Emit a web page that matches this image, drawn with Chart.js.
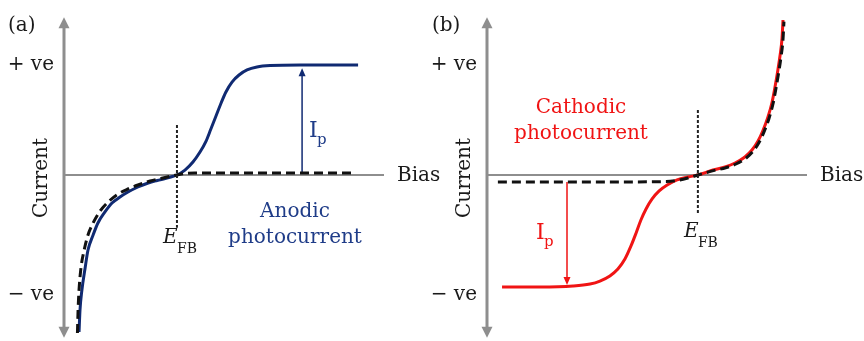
<!DOCTYPE html>
<html><head><meta charset="utf-8">
<script src="https://cdn.jsdelivr.net/npm/chart.js@4"></script>
<style>
html,body{margin:0;padding:0;background:#fff;overflow:hidden}
#wrap{position:relative;width:864px;height:341px}
#ca{position:absolute;left:0;top:0}
#cb{position:absolute;left:432px;top:0}
canvas{display:block}
</style></head><body>
<div id="wrap"><canvas id="ca" width="470" height="341"></canvas><canvas id="cb" width="432" height="341"></canvas></div>
<script>
// ---------- Panel (a): anodic photocurrent ----------
const biasA_light    = [0.47, 0.50, 0.56, 0.66, 0.75, 0.91, 1.06, 1.28, 1.50, 1.75, 2.00, 2.31, 2.63, 2.91, 3.16, 3.34, 3.53,
                        3.78, 4.03, 4.25, 4.44, 4.59, 4.75, 4.91, 5.06, 5.25, 5.47, 5.72, 6.03, 6.44, 7.38, 9.19];
const currentA_light = [-1.427, -1.227, -1.045, -0.845, -0.682, -0.545, -0.436, -0.336, -0.255, -0.200, -0.155, -0.109, -0.073, -0.050, -0.032, -0.018, 0,
                        0.045, 0.118, 0.209, 0.309, 0.418, 0.536, 0.655, 0.755, 0.845, 0.909, 0.955, 0.982, 0.995, 1.0, 1.0];
const biasA_dark     = [0.42, 0.44, 0.47, 0.53, 0.63, 0.75, 0.91, 1.13, 1.38, 1.69, 2.00, 2.31, 2.69, 3.09, 3.53, 3.78, 4.09, 9.10];
const currentA_dark  = [-1.436, -1.227, -1.045, -0.845, -0.682, -0.545, -0.436, -0.327, -0.245, -0.173, -0.127, -0.091, -0.055, -0.027, 0, 0.014, 0.018, 0.018];
const efbA = 3.53;
const ipA = {bias: 7.44, from: 0.018, to: 0.97};

// ---------- Panel (b): cathodic photocurrent ----------
const biasB_light    = [0.47, 1.66, 2.69, 3.22, 3.53, 3.84, 4.09, 4.31, 4.50, 4.66, 4.81, 4.97, 5.16, 5.38, 5.63, 5.94, 6.28, 6.59,
                        7.06, 7.44, 7.75, 8.06, 8.28, 8.47, 8.63, 8.78, 8.91, 9.00, 9.09, 9.16, 9.22, 9.25];
const currentB_light = [-1.018, -1.018, -1.009, -0.991, -0.964, -0.918, -0.855, -0.764, -0.645, -0.527, -0.409, -0.309, -0.218, -0.145, -0.091, -0.045, -0.018, 0,
                        0.045, 0.073, 0.109, 0.164, 0.227, 0.309, 0.409, 0.527, 0.664, 0.800, 0.955, 1.091, 1.245, 1.409];
const biasB_dark     = [0.34, 3.00, 5.60, 5.94, 6.28, 6.59, 7.08, 7.46, 7.78, 8.09, 8.31, 8.50, 8.66, 8.81, 8.94, 9.03, 9.12, 9.19, 9.25, 9.28];
const currentB_dark  = [-0.064, -0.064, -0.060, -0.050, -0.027, 0, 0.040, 0.066, 0.100, 0.152, 0.214, 0.295, 0.395, 0.512, 0.650, 0.786, 0.940, 1.078, 1.232, 1.395];
const efbB = 6.59;
const ipB = {bias: 2.5, from: -0.064, to: -1.0};

// Axis labels
const axisTicks = ['+ ve', '\u2212 ve'];
const axisValues = [1.0, -1.09];

const AXIS = '#8e8e8e';
const SERIF = '"DejaVu Serif", "Liberation Serif", serif';

function pts(xs, ys){ return xs.map((v,i)=>({x:v, y:ys[i]})); }

function arrowHead(ctx, x, y, dir, color){
  ctx.fillStyle = color;
  ctx.beginPath();
  ctx.moveTo(x, y);
  ctx.lineTo(x - 3.5, y - dir*8);
  ctx.lineTo(x + 3.5, y - dir*8);
  ctx.closePath(); ctx.fill();
}

function makeChart(id, P){
  const canvas = document.getElementById(id);
  const plugin = {
    id: 'decor'+id,
    beforeDatasetsDraw(chart){
      const {ctx, scales:{x, y}} = chart;
      const x0 = x.getPixelForValue(0), y0 = y.getPixelForValue(0);
      ctx.save();
      ctx.strokeStyle = AXIS; ctx.lineWidth = 2;
      ctx.beginPath(); ctx.moveTo(x0, y0); ctx.lineTo(x.getPixelForValue(10), y0); ctx.stroke();
      const yt = y.getPixelForValue(1.435), yb = y.getPixelForValue(-1.48);
      ctx.lineWidth = 3;
      ctx.beginPath(); ctx.moveTo(x0, yt + 8); ctx.lineTo(x0, yb - 8); ctx.stroke();
      ctx.fillStyle = AXIS;
      ctx.beginPath(); ctx.moveTo(x0, yt); ctx.lineTo(x0-5.5, yt+11); ctx.lineTo(x0+5.5, yt+11); ctx.closePath(); ctx.fill();
      ctx.beginPath(); ctx.moveTo(x0, yb); ctx.lineTo(x0-5.5, yb-11); ctx.lineTo(x0+5.5, yb-11); ctx.closePath(); ctx.fill();
      ctx.restore();
    },
    afterDatasetsDraw(chart){
      const {ctx, scales:{x, y}} = chart;
      const x0 = x.getPixelForValue(0), y0 = y.getPixelForValue(0);
      ctx.save();
      const ax = x.getPixelForValue(P.ip.bias), ay = y.getPixelForValue(P.ip.to);
      arrowHead(ctx, ax, ay, P.ip.to > 0 ? -1 : 1, P.color);
      ctx.textBaseline = 'alphabetic';
      ctx.fillStyle = '#1a1a1a';
      ctx.font = '20px ' + SERIF; ctx.textAlign = 'left';
      ctx.fillText(P.letter, P.letterX, 31);
      ctx.textAlign = 'right'; ctx.textBaseline = 'middle';
      axisTicks.forEach((t,i)=>{ ctx.fillText(t, x0 - 10, y.getPixelForValue(axisValues[i])); });
      ctx.save(); ctx.translate(x0 - 22, y0 + 3); ctx.rotate(-Math.PI/2);
      ctx.textAlign = 'center'; ctx.fillText('Current', 0, 0); ctx.restore();
      ctx.textAlign = 'left'; ctx.textBaseline = 'middle';
      ctx.fillText('Bias', x.getPixelForValue(10) + 13, y0 + 1);
      ctx.textBaseline = 'alphabetic'; ctx.textAlign = 'left';
      const ex = x.getPixelForValue(P.efb);
      ctx.font = 'italic 20px ' + SERIF;
      ctx.fillText('E', ex - 14, P.efbBase);
      ctx.font = '14px ' + SERIF;
      ctx.fillText('FB', ex + 0, P.efbBase + 10);
      ctx.fillStyle = P.textColor;
      ctx.font = '22px ' + SERIF;
      ctx.fillText('I', P.ipLabelX, P.ipLabelY);
      ctx.font = '15px ' + SERIF;
      ctx.fillText('p', P.ipLabelX + 8, P.ipLabelY + 7);
      ctx.font = '20px ' + SERIF; ctx.textAlign = 'center';
      ctx.fillText(P.title[0], P.titleX, P.titleY);
      ctx.fillText(P.title[1], P.titleX, P.titleY + 26);
      ctx.restore();
    }
  };
  return new Chart(canvas, {
    type: 'scatter',
    data: { datasets: [
      { data: pts(P.biasLight, P.curLight), showLine: true, borderColor: P.color, borderWidth: 3,
        pointRadius: 0, cubicInterpolationMode: 'monotone', order: 2 },
      { data: pts(P.biasDark, P.curDark), showLine: true, borderColor: '#111', borderWidth: 3,
        borderDash: [9, 5], pointRadius: 0, cubicInterpolationMode: 'monotone', order: 1 },
      { data: [{x:P.efb, y:P.efbTop}, {x:P.efb, y:P.efbBot}], showLine: true, borderColor: '#222',
        borderWidth: 2, borderDash: [3, 2], pointRadius: 0, order: 0 },
      { data: [{x:P.ip.bias, y:P.ip.from}, {x:P.ip.bias, y:P.ip.to - (P.ip.to>0? 0.04 : -0.04)}], showLine: true,
        borderColor: P.color, borderWidth: 1.5, pointRadius: 0, order: 3 }
    ]},
    options: {
      responsive: false, animation: false, devicePixelRatio: 1,
      layout: { padding: 0 },
      plugins: { legend: {display:false}, tooltip: {enabled:false} },
      scales: {
        x: { type:'linear', display:false, min: P.xmin, max: P.xmin + canvas.width/32 },
        y: { type:'linear', display:false, min: -1.509, max: 1.5909 }
      }
    },
    plugins: [plugin]
  });
}

makeChart('ca', {
  letter: '(a)', letterX: 8,
  biasLight: biasA_light, curLight: currentA_light, biasDark: biasA_dark, curDark: currentA_dark,
  color: '#102a72', textColor: '#1f3c88',
  efb: efbA, efbTop: 0.455, efbBot: -0.48, efbBase: 243,
  ip: ipA, ipLabelX: 309, ipLabelY: 137,
  title: ['Anodic', 'photocurrent'], titleX: 295, titleY: 217,
  xmin: -2
});
makeChart('cb', {
  letter: '(b)', letterX: 0,
  biasLight: biasB_light, curLight: currentB_light, biasDark: biasB_dark, curDark: currentB_dark,
  color: '#f01414', textColor: '#f01414',
  efb: efbB, efbTop: 0.59, efbBot: -0.345, efbBase: 237,
  ip: ipB, ipLabelX: 104, ipLabelY: 239,
  title: ['Cathodic', 'photocurrent'], titleX: 149, titleY: 113,
  xmin: -55/32
});
</script>
</body></html>
